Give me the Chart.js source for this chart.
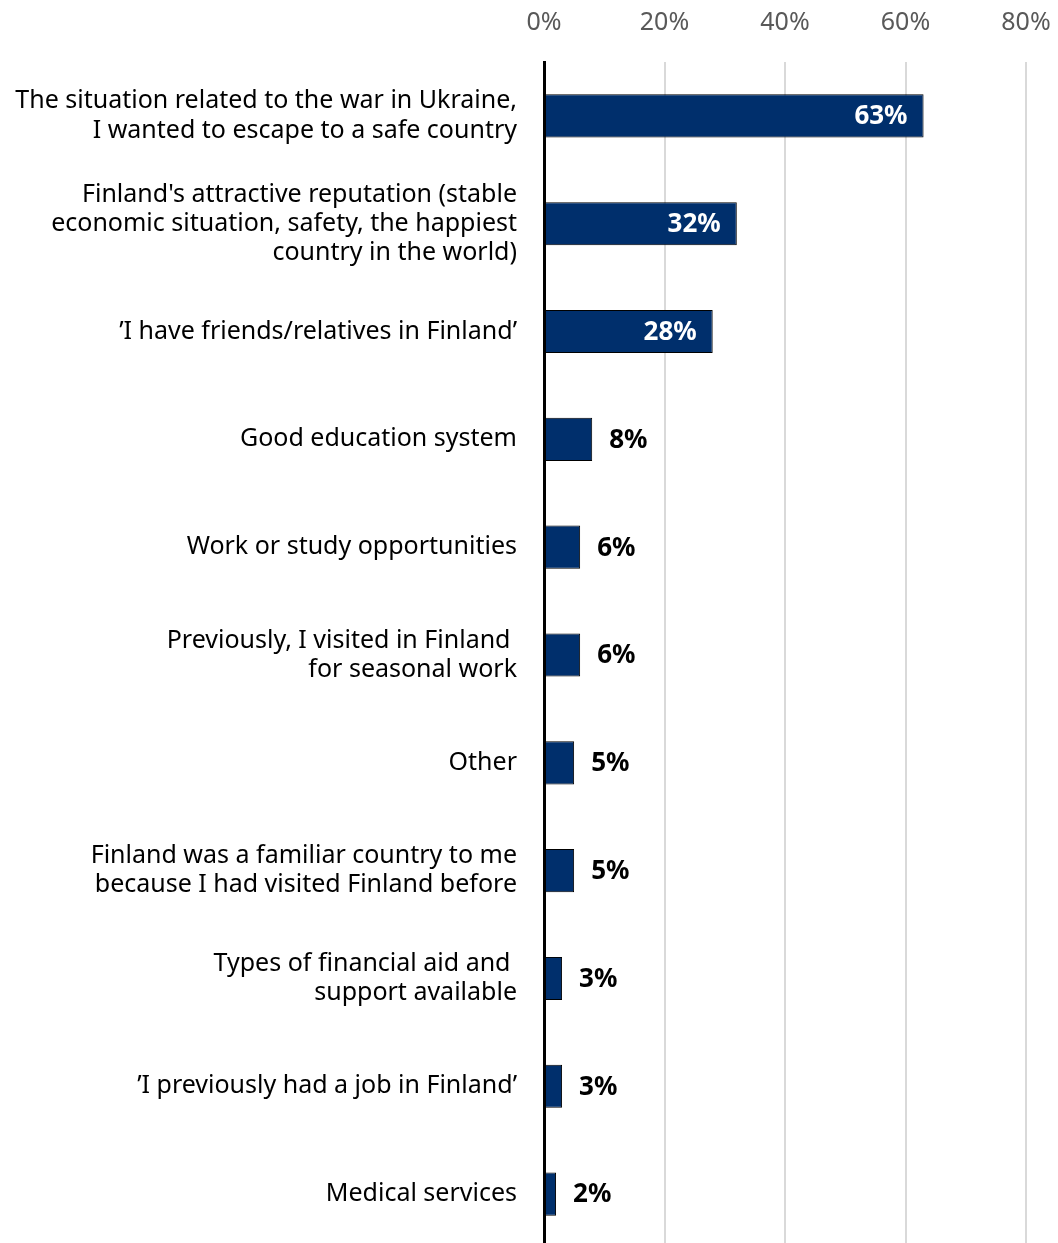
<!DOCTYPE html>
<html>
<head>
<meta charset="utf-8">
<script src="https://cdn.jsdelivr.net/npm/chart.js@4/dist/chart.umd.min.js"></script>
<style>
  html, body { margin: 0; padding: 0; background: #fff; overflow: hidden; }
  /* last category is cut off slightly at the bottom edge */
  #wrap { width: 1058px; height: 1243px; overflow: hidden; }
</style>
</head>
<body>
<div id="wrap"><canvas id="reasons" width="1058" height="1248"></canvas></div>
<script>
// reasons for choosing Finland, share of respondents (%)
const reasonLabels = [
    ['The situation related to the war in Ukraine,', 'I wanted to escape to a safe country'],
    ["Finland's attractive reputation (stable", 'economic situation, safety, the happiest', 'country in the world)'],
    '\u2019I have friends/relatives in Finland\u2019',
    'Good education system',
    'Work or study opportunities',
    ['Previously, I visited in Finland ', 'for seasonal work'],
    'Other',
    ['Finland was a familiar country to me', 'because I had visited Finland before'],
    ['Types of financial aid and ', 'support available'],
    '\u2019I previously had a job in Finland\u2019',
    'Medical services'
];
const reasonShares = [63, 32, 28, 8, 6, 6, 5, 5, 3, 3, 2];
const axisTicks = [0, 20, 40, 60, 80];

const FONT = '"Noto Sans", "Open Sans", sans-serif';
const NAVY = '#002f6c';

// value labels: white inside long bars, black beside short ones
const barValues = {
    id: 'barValues',
    afterDatasetsDraw(chart) {
        const ctx = chart.ctx;
        const meta = chart.getDatasetMeta(0);
        ctx.save();
        ctx.font = 'bold 26px ' + FONT;
        ctx.textBaseline = 'middle';
        meta.data.forEach((bar, i) => {
            const v = reasonShares[i];
            const txt = v + '%';
            if (v >= 20) {
                ctx.fillStyle = '#ffffff';
                ctx.textAlign = 'right';
                ctx.fillText(txt, bar.x - 16, bar.y + 1);
            } else {
                ctx.fillStyle = '#000000';
                ctx.textAlign = 'left';
                ctx.fillText(txt, bar.x + 17, bar.y + 1);
            }
        });
        ctx.restore();
    }
};

new Chart(document.getElementById('reasons'), {
    type: 'bar',
    data: {
        labels: reasonLabels,
        datasets: [{
            data: reasonShares,
            backgroundColor: NAVY,
            borderColor: '#000000',
            borderWidth: 1,
            barPercentage: 0.4,
            categoryPercentage: 1.0
        }]
    },
    options: {
        indexAxis: 'y',
        responsive: false,
        animation: false,
        layout: { padding: { top: 0, left: 0, right: 32, bottom: 0 } },
        plugins: {
            legend: { display: false },
            tooltip: { enabled: false }
        },
        scales: {
            x: {
                position: 'top',
                min: 0,
                max: 80,
                afterBuildTicks: (scale) => {
                    scale.ticks = axisTicks.map(v => ({ value: v }));
                },
                afterFit: (scale) => {
                    // the 80% label may run into the right margin
                    scale.height = 62;
                    scale.paddingLeft = 0;
                    scale.paddingRight = 0;
                },
                grid: { color: '#d9d9d9', lineWidth: 2, drawTicks: false },
                border: { display: false },
                ticks: {
                    padding: 24,
                    color: '#595959',
                    font: { family: FONT, size: 25 },
                    callback: (v) => v + '%'
                }
            },
            y: {
                afterFit: (scale) => {
                    scale.width = 544;
                    scale.paddingTop = 0;
                    scale.paddingBottom = 0;
                },
                grid: { display: false, drawTicks: false },
                border: { display: true, color: '#000000', width: 3, z: 1 },
                ticks: {
                    padding: 27,
                    color: '#000000',
                    font: { family: FONT, size: 25, lineHeight: 1.17 }
                }
            }
        }
    },
    plugins: [barValues]
});
</script>
</body>
</html>
